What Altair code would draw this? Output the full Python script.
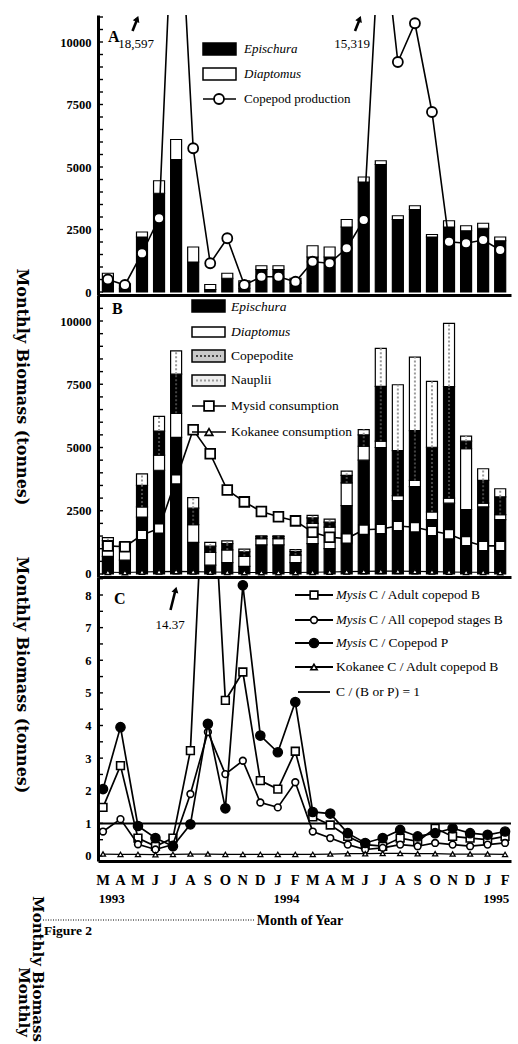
import math
import altair as alt
import pandas as pd

# ---------------------------------------------------------------- data
MONTHS = ["M", "A", "M", "J", "J", "A", "S", "O", "N", "D", "J", "F",
          "M", "A", "M", "J", "J", "A", "S", "O", "N", "D", "J", "F"]
IDX = list(range(len(MONTHS)))
YEAR_LABELS = ["1993", "1994", "1995"]
YEAR_AT = [0.5, 10.5, 22.5]

# Panel A: adult copepod biomass (tonnes) and copepod production
A_EPISCHURA = [450, 130, 2200, 3950, 5300, 1200, 100, 550, 150, 900, 900, 350,
               1400, 1400, 2600, 4400, 5100, 2900, 3300, 2200, 2600, 2450, 2550, 2050]
A_DIAPTOMUS = [300, 200, 200, 500, 800, 600, 200, 200, 300, 150, 150, 200,
               450, 400, 300, 200, 150, 150, 150, 100, 250, 200, 200, 150]
A_PRODUCTION = [500, 280, 1550, 2950, 18597, 5750, 1150, 2150, 280, 610, 610, 410,
                1210, 1150, 1750, 2880, 15319, 9200, 10750, 7200, 2010, 1950, 2080, 1680]

# Panel B: biomass by stage (tonnes) and predator consumption
B_EPISCHURA = [700, 550, 2250, 4100, 5400, 1250, 350, 450, 300, 1150, 1150, 450,
               1200, 1000, 2700, 4500, 5000, 2900, 3450, 2150, 2800, 2550, 2650, 2150]
B_DIAPTOMUS = [450, 450, 400, 600, 950, 700, 500, 500, 400, 250, 250, 300,
               800, 850, 900, 550, 250, 200, 250, 300, 200, 2400, 150, 200]
B_COPEPODITE = [170, 150, 850, 950, 1550, 650, 250, 250, 180, 80, 80, 140,
                220, 200, 300, 450, 2170, 1780, 1970, 2560, 4410, 300, 900, 700]
B_NAUPLII = [120, 100, 460, 580, 920, 420, 150, 110, 100, 30, 30, 70,
             100, 120, 170, 210, 1500, 2600, 2900, 2600, 2500, 200, 460, 320]
B_MYSID = [1110, 1080, 1540, 1800, 3740, 5700, 4750, 3320, 2850, 2470, 2260, 2100,
           1650, 1450, 1400, 1750, 1780, 1900, 1850, 1700, 1570, 1300, 1110, 1110]
B_KOKANEE = [70, 60, 80, 90, 100, 90, 80, 70, 60, 60, 60, 60,
             70, 80, 90, 100, 110, 110, 100, 90, 80, 70, 70, 60]

# Panel C: consumption / biomass (or production) ratios
C_MYSIS_ADULT = [1.49, 2.77, 0.55, 0.30, 0.55, 3.23, 14.37, 4.77, 5.64, 2.31, 2.05, 3.21,
                 1.20, 0.95, 0.60, 0.35, 0.30, 0.55, 0.45, 0.85, 0.60, 0.55, 0.50, 0.60]
C_MYSIS_ALL = [0.75, 1.13, 0.36, 0.20, 0.35, 1.90, 3.80, 2.51, 2.92, 1.64, 1.49, 2.26,
               0.75, 0.55, 0.35, 0.20, 0.25, 0.35, 0.30, 0.40, 0.35, 0.30, 0.35, 0.40]
C_MYSIS_PROD = [2.05, 3.95, 0.92, 0.55, 0.30, 0.97, 4.05, 1.46, 8.30, 3.69, 3.18, 4.72,
                1.35, 1.30, 0.70, 0.40, 0.55, 0.80, 0.60, 0.70, 0.85, 0.70, 0.65, 0.75]
C_KOKANEE = [0.06, 0.05, 0.05, 0.04, 0.05, 0.06, 0.06, 0.05, 0.05, 0.05, 0.05, 0.05,
             0.05, 0.06, 0.07, 0.07, 0.08, 0.08, 0.07, 0.07, 0.06, 0.06, 0.06, 0.05]
C_THRESHOLD = 1

TICKS_AB = list(range(0, 11001, 500))
TICKS_C = [v / 2 for v in range(0, 18)]

# ---------------------------------------------------------------- layout
W = 413
X0 = 98
TOP_A, TOP_B, TOP_C = 15, 295, 577
H_A, H_B, H_C = 280, 282, 284
SERIF = "Liberation Serif"
HEAVY = "DejaVu Serif"

XS = alt.Scale(domain=[-0.286, 23.34], nice=False, zero=False)
X_AXIS = alt.Axis(labels=False, ticks=False, grid=False, title=None,
                  domainColor="black", domainWidth=3)


def y_axis(values):
    return alt.Axis(values=values, format="d", ticks=False, grid=False, title=None,
                    domainColor="black", domainWidth=3, labelFont=SERIF,
                    labelFontSize=12.5, labelFontWeight="bold", labelColor="black",
                    labelPadding=7)


YS_A = alt.Scale(domain=[-120, 11080], nice=False, zero=False)
YS_B = alt.Scale(domain=[-118.6, 11028], nice=False, zero=False)
YS_C = alt.Scale(domain=[-0.1533, 8.552], nice=False, zero=False)
AX_AB = y_axis([0, 2500, 5000, 7500, 10000])
AX_C = y_axis(list(range(0, 9)))

ONE = pd.DataFrame({"k": [0]})


def text_at(s, sx, sy, top, size=13, weight="normal", style="normal",
            align="left", angle=0, font=SERIF):
    return alt.Chart(ONE).mark_text(
        text=s, font=font, fontSize=size, fontWeight=weight, fontStyle=style,
        align=align, baseline="middle", angle=angle, color="black"
    ).encode(x=alt.value(sx - X0), y=alt.value(sy - top))


def seg(x1, y1, x2, y2, top, width=1.5, color="black", dash=None):
    props = dict(color=color, strokeWidth=width)
    if dash is not None:
        props["strokeDash"] = dash
    return alt.Chart(ONE).mark_rule(**props).encode(
        x=alt.value(x1 - X0), y=alt.value(y1 - top),
        x2=alt.value(x2 - X0), y2=alt.value(y2 - top))


def box(x1, y1, x2, y2, top, fill):
    return alt.Chart(ONE).mark_rect(fill=fill, stroke="black", strokeWidth=1.5).encode(
        x=alt.value(x1 - X0), y=alt.value(y1 - top),
        x2=alt.value(x2 - X0), y2=alt.value(y2 - top))


def sym(sx, sy, top, shape, size, fill, angle=0, sw=1.6):
    return alt.Chart(ONE).mark_point(
        shape=shape, size=size, filled=True, fill=fill, stroke="black",
        strokeWidth=sw, angle=angle, opacity=1
    ).encode(x=alt.value(sx - X0), y=alt.value(sy - top))


def arrow(x1, y1, x2, y2, top):
    ang = math.degrees(math.atan2(x2 - x1, y1 - y2))
    return [seg(x1, y1, x2, y2, top, width=2.6),
            sym(x2 + 0.6, y2 - 2, top, "triangle-up", 28, "black", angle=ang, sw=1)]


def minor_ticks(vals, ys, ax):
    df = pd.DataFrame({"t": vals})
    return alt.Chart(df).mark_rule(color="black", strokeWidth=1.4).encode(
        y=alt.Y("t:Q", scale=ys, axis=ax), x=alt.value(0), x2=alt.value(5))


def stacked(parts, names):
    rows = []
    for i in IDX:
        lo = 0
        for name, vals in zip(names, parts):
            hi = lo + vals[i]
            rows.append({"i": i, "taxon": name, "lo": lo, "hi": hi})
            lo = hi
    return pd.DataFrame(rows)


def bars(df, ys, ax, names, colors):
    return alt.Chart(df).mark_bar(size=11, stroke="black", strokeWidth=1.2).encode(
        x=alt.X("i:Q", scale=XS, axis=X_AXIS),
        y=alt.Y("lo:Q", scale=ys, axis=ax),
        y2="hi:Q",
        fill=alt.Fill("taxon:N", scale=alt.Scale(domain=names, range=colors), legend=None))


def series(vals, ys, ax, shape, size, fill, lw=1.6, sw=1.6):
    df = pd.DataFrame({"i": IDX, "v": vals})
    base = alt.Chart(df).encode(x=alt.X("i:Q", scale=XS, axis=X_AXIS),
                                y=alt.Y("v:Q", scale=ys, axis=ax))
    line = base.mark_line(color="black", strokeWidth=lw, clip=True)
    pts = base.mark_point(shape=shape, size=size, filled=True, fill=fill, stroke="black",
                          strokeWidth=sw, opacity=1, clip=True)
    return [line, pts]


# ---------------------------------------------------------------- panel A
names_a = ["Epischura", "Diaptomus"]
stack_a = stacked([A_EPISCHURA, A_DIAPTOMUS], names_a)
layers_a = [
    seg(0.5, 0.5, 1.0, 0.5, TOP_A, width=1, color="white"),
    bars(stack_a, YS_A, AX_AB, names_a, ["black", "white"]),
    minor_ticks(TICKS_AB, YS_A, AX_AB),
    *series(A_PRODUCTION, YS_A, AX_AB, "circle", 100, "white", lw=1.6, sw=1.8),
    text_at("A", 108, 37, TOP_A, size=16, weight="bold"),
    text_at(f"{A_PRODUCTION[4]:,}", 136, 44, TOP_A, size=13, align="center"),
    *arrow(132.5, 31, 136.5, 21, TOP_A),
    text_at(f"{A_PRODUCTION[16]:,}", 352, 44, TOP_A, size=13, align="center"),
    *arrow(355, 31, 359, 21, TOP_A),
    box(203, 43, 236, 55, TOP_A, "black"),
    text_at("Epischura", 244, 49, TOP_A, style="italic"),
    box(203, 68, 236, 80, TOP_A, "white"),
    text_at("Diaptomus", 244, 74, TOP_A, style="italic"),
    seg(203, 99, 236, 99, TOP_A, width=1.6),
    sym(219, 99, TOP_A, "circle", 100, "white", sw=1.8),
    text_at("Copepod production", 244, 99, TOP_A),
]
panel_a = alt.layer(*layers_a).properties(width=W, height=H_A)

# ---------------------------------------------------------------- panel B
names_b = ["Epischura", "Diaptomus", "Copepodite", "Nauplii"]
stack_b = stacked([B_EPISCHURA, B_DIAPTOMUS, B_COPEPODITE, B_NAUPLII], names_b)
texture_b = stack_b[stack_b["taxon"].isin(["Copepodite", "Nauplii"])]
tex_layer = alt.Chart(texture_b).mark_rule(strokeDash=[2, 2], strokeWidth=2).encode(
    x=alt.X("i:Q", scale=XS, axis=X_AXIS),
    y=alt.Y("lo:Q", scale=YS_B, axis=AX_AB),
    y2="hi:Q",
    color=alt.Color("taxon:N", scale=alt.Scale(domain=["Copepodite", "Nauplii"],
                                               range=["#444444", "#9a9a9a"]), legend=None))
layers_b = [
    bars(stack_b, YS_B, AX_AB, names_b, ["black", "white", "#c9c9c9", "#eeeeee"]),
    tex_layer,
    minor_ticks(TICKS_AB, YS_B, AX_AB),
    *series(B_MYSID, YS_B, AX_AB, "square", 95, "white", lw=1.6, sw=1.8),
    *series(B_KOKANEE, YS_B, AX_AB, "triangle-up", 28, "white", lw=1.2, sw=1.3),
    text_at("B", 112, 309, TOP_B, size=16, weight="bold"),
    box(192, 300, 225, 312, TOP_B, "black"),
    text_at("Epischura", 231, 307, TOP_B, size=13.5, style="italic"),
    box(192, 327, 225, 337, TOP_B, "white"),
    text_at("Diaptomus", 231, 332, TOP_B, size=13.5, style="italic"),
    box(192, 350, 225, 362, TOP_B, "#c9c9c9"),
    seg(196, 356, 221, 356, TOP_B, width=2, color="#444444", dash=[2, 2]),
    text_at("Copepodite", 231, 356, TOP_B, size=13.5),
    box(192, 375, 225, 386, TOP_B, "#eeeeee"),
    seg(196, 380.5, 221, 380.5, TOP_B, width=2, color="#9a9a9a", dash=[2, 2]),
    text_at("Nauplii", 231, 380, TOP_B, size=13.5),
    seg(192, 406, 226, 406, TOP_B, width=1.6),
    sym(209, 406, TOP_B, "square", 95, "white", sw=1.8),
    text_at("Mysid consumption", 231, 406, TOP_B, size=13.5),
    seg(192, 432, 226, 432, TOP_B, width=1.6),
    sym(209, 432, TOP_B, "triangle-up", 60, "white", sw=1.6),
    text_at("Kokanee consumption", 231, 432, TOP_B, size=13.5),
    text_at("Monthly Biomass (tonnes)", 22, 387, TOP_B, size=16, weight="bold",
            align="center", angle=90, font=HEAVY),
]
panel_b = alt.layer(*layers_b).properties(width=W, height=H_B)

# ---------------------------------------------------------------- panel C
threshold = alt.Chart(ONE).mark_rule(color="black", strokeWidth=2).encode(
    y=alt.datum(C_THRESHOLD, scale=YS_C, axis=AX_C), x=alt.value(0), x2=alt.value(W))
month_df = pd.DataFrame({"i": IDX, "m": MONTHS})
months_layer = alt.Chart(month_df).mark_text(
    font=SERIF, fontSize=14.5, fontWeight="bold", color="black", baseline="middle"
).encode(x=alt.X("i:Q", scale=XS, axis=X_AXIS), y=alt.value(881 - TOP_C), text="m:N")
year_df = pd.DataFrame({"i": YEAR_AT, "yr": YEAR_LABELS})
years_layer = alt.Chart(year_df).mark_text(
    font=SERIF, fontSize=13, fontWeight="bold", color="black", baseline="middle"
).encode(x=alt.X("i:Q", scale=XS, axis=X_AXIS), y=alt.value(899 - TOP_C), text="yr:N")

legend_rows = [595, 620, 643, 667]
layers_c = [
    threshold,
    minor_ticks(TICKS_C, YS_C, AX_C),
    *series(C_MYSIS_ADULT, YS_C, AX_C, "square", 60, "white", lw=1.7, sw=1.6),
    *series(C_MYSIS_ALL, YS_C, AX_C, "circle", 45, "white", lw=1.7, sw=1.6),
    *series(C_MYSIS_PROD, YS_C, AX_C, "circle", 85, "black", lw=1.7, sw=1.4),
    *series(C_KOKANEE, YS_C, AX_C, "triangle-up", 25, "white", lw=1.3, sw=1.3),
    months_layer,
    years_layer,
    text_at("C", 114, 599, TOP_C, size=16, weight="bold"),
    text_at(f"{C_MYSIS_ADULT[6]:.2f}", 170, 625, TOP_C, size=13, align="center"),
    *arrow(170.5, 610, 175, 592, TOP_C),
    # legend
    seg(295, legend_rows[0], 333, legend_rows[0], TOP_C, width=1.8),
    sym(314, legend_rows[0], TOP_C, "square", 60, "white"),
    text_at("Mysis", 336, legend_rows[0], TOP_C, style="italic"),
    text_at("C / Adult copepod B", 369, legend_rows[0], TOP_C, size=13.5),
    seg(295, legend_rows[1], 333, legend_rows[1], TOP_C, width=1.8),
    sym(314, legend_rows[1], TOP_C, "circle", 45, "white"),
    text_at("Mysis", 336, legend_rows[1], TOP_C, style="italic"),
    text_at("C / All copepod stages B", 369, legend_rows[1], TOP_C, size=13.5),
    seg(295, legend_rows[2], 333, legend_rows[2], TOP_C, width=1.8),
    sym(314, legend_rows[2], TOP_C, "circle", 85, "black", sw=1.4),
    text_at("Mysis", 336, legend_rows[2], TOP_C, style="italic"),
    text_at("C / Copepod P", 369, legend_rows[2], TOP_C, size=13.5),
    seg(295, legend_rows[3], 333, legend_rows[3], TOP_C, width=1.8),
    sym(314, legend_rows[3], TOP_C, "triangle-up", 40, "white"),
    text_at("Kokanee C / Adult copepod B", 336, legend_rows[3], TOP_C, size=13.5),
    seg(298, 692, 330, 692, TOP_C, width=1.8),
    text_at("C / (B or P) = 1", 336, 692, TOP_C, size=13.5),
    # axis title and figure caption area
    text_at("Monthly Biomass (tonnes)", 22, 675, TOP_C, size=16, weight="bold",
            align="center", angle=90, font=HEAVY),
    seg(43, 920, 255, 920, TOP_C, width=1, dash=[1, 1.5]),
    text_at("Month of Year", 300, 921, TOP_C, size=14, weight="bold", align="center"),
    text_at("Figure 2", 44, 931, TOP_C, size=13.5, weight="bold"),
    text_at("Monthly Biomass", 37.5, 969, TOP_C, size=15, weight="bold",
            align="center", angle=90, font=HEAVY),
    text_at("Monthly", 24, 1002, TOP_C, size=15, weight="bold",
            align="center", angle=90, font=HEAVY),
]
panel_c = alt.layer(*layers_c).properties(width=W, height=H_C)

chart = alt.vconcat(panel_a, panel_b, panel_c, spacing=0, bounds="flush",
                    padding=0, background="white").configure_view(strokeWidth=0)

chart.save("out.html", embed_options={"renderer": "svg", "actions": False})
